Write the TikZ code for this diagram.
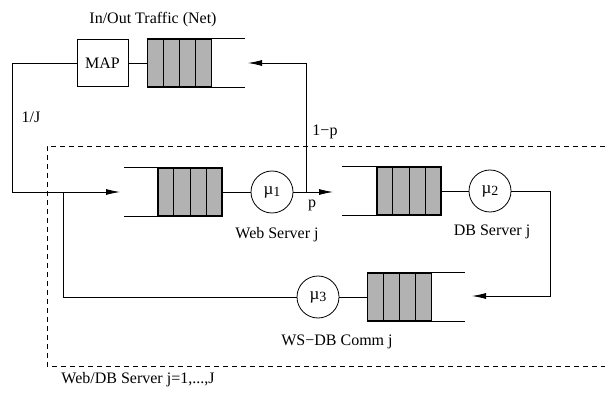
\documentclass[tikz,border=0pt]{standalone}
\usepackage{fontspec}
\setmainfont{Liberation Serif}
\usetikzlibrary{arrows.meta,calc}

\begin{document}
\begin{tikzpicture}[x=1pt,y=-1pt,line width=0.8pt,font=\fontsize{16}{19}\selectfont,
    >={Latex[length=14pt,width=6pt]}]
    \tikzstyle{queue}=[draw, line width=1.3pt, fill=black!30, minimum width=64pt, minimum height=48pt, inner sep=0pt]
    \tikzstyle{server}=[draw, circle, minimum size=42pt, inner sep=0pt, font=\fontsize{17}{19}\selectfont]
    \tikzstyle{boxed}=[draw, minimum width=51pt, minimum height=47pt, inner sep=0pt]
    \useasboundingbox (0,0) rectangle (605,395);
    \draw [black, dash pattern=on 5pt off 4pt] (605,146) -- (47,146) -- (47,366) -- (605,366);
    \node (title) at (153,20) {In/Out Traffic (Net)};
    \node (map) [boxed] at (102.5,63) {MAP};
    \node (tq) [queue] at (179.5,63) {};
    \node (wq) [queue] at (190,192) {};
    \node (dq) [queue] at (409,191) {};
    \node (cq) [queue] at (399.5,297) {};
    \foreach \q in {tq,wq,dq,cq}
      \foreach \k in {1,2,3}
        \draw [black, line width=1pt] ($(\q.north west)!\k/4!(\q.north east)$) -- ($(\q.south west)!\k/4!(\q.south east)$);
    \draw [black] (tq.north east) -- ++(33,0);
    \draw [black] (tq.south east) -- ++(33,0);
    \draw [black] (wq.north west) -- ++(-33,0);
    \draw [black] (wq.south west) -- ++(-33,0);
    \draw [black] (dq.north west) -- ++(-34,0);
    \draw [black] (dq.south west) -- ++(-34,0);
    \draw [black] (cq.north east) -- ++(33,0);
    \draw [black] (cq.south east) -- ++(33,0);
    \node (mu1) [server] at (272,192) {µ\raisebox{-0.35ex}{\fontsize{14}{16}\selectfont 1}};
    \node (mu2) [server] at (490,191) {µ\raisebox{-0.35ex}{\fontsize{14}{16}\selectfont 2}};
    \node (mu3) [server] at (318,297) {µ\raisebox{-0.35ex}{\fontsize{14}{16}\selectfont 3}};
    \coordinate (tqin) at (248,63);
    \coordinate (wqin) at (120,192);
    \coordinate (dqin) at (333,192);
    \coordinate (cqin) at (472,296);
    \coordinate (split) at (306,192);
    \coordinate (ltop) at (12,63);
    \coordinate (lbot) at (12,192);
    \coordinate (join) at (63,192);
    \coordinate (rtop) at (550,191);
    \coordinate (rbot) at (550,296);
    \draw [black] (map) -- (tq);
    \draw [black, ->] (map.west) -- (ltop) -- (lbot) -- (wqin);
    \draw [black] (wq) -- (mu1);
    \draw [black, ->] (mu1) -- (dqin);
    \draw [black, ->] (split) |- (tqin);
    \draw [black] (dq) -- (mu2);
    \draw [black, ->] (mu2) -- (rtop) -- (rbot) -- (cqin);
    \draw [black] (cq) -- (mu3);
    \draw [black] (mu3) -| (join);
    \node (oneJ) [anchor=west] at (18,117) {1/J};
    \node (onep) at (325,132) {1−p};
    \node (p) at (312,205) {p};
    \node (wslabel) at (277,235) {Web Server j};
    \node (dblabel) at (492,232) {DB Server j};
    \node (cqlabel) at (337,342) {WS−DB Comm j};
    \node (all) at (138,380) {Web/DB Server j=1,...,J};
\end{tikzpicture}
\end{document}
